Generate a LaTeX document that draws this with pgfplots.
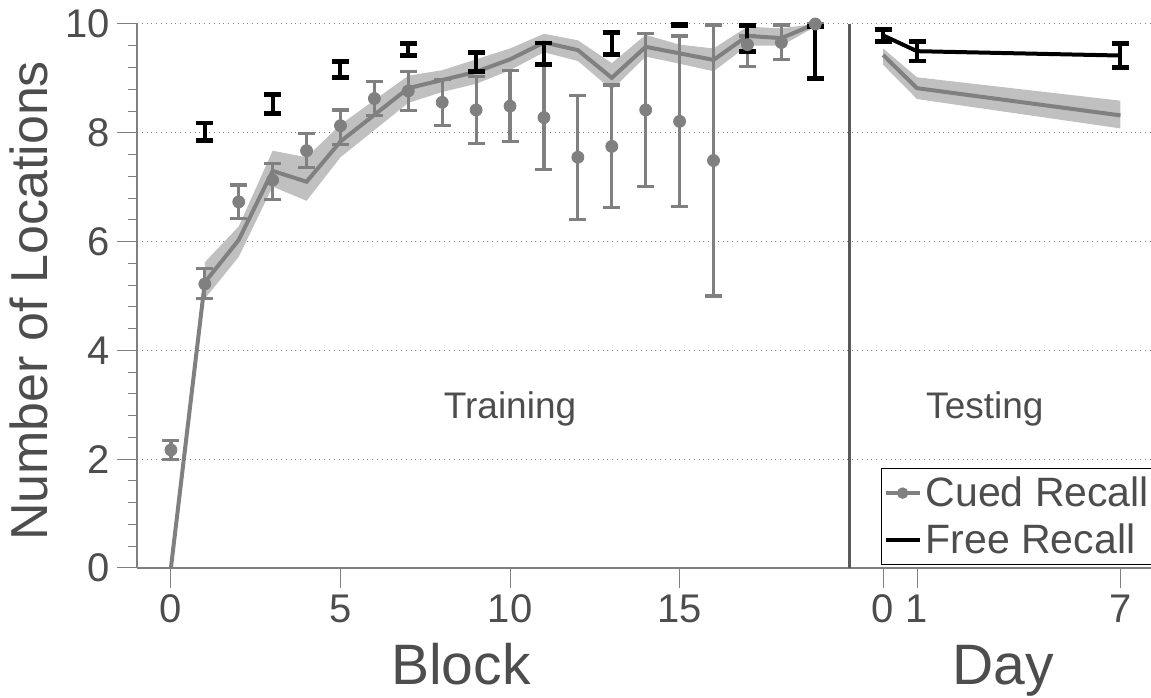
\documentclass[border=0pt]{standalone}
\usepackage{pgfplots}
\pgfplotsset{compat=1.18}
\usepackage{pgfplotstable}
\usepgfplotslibrary{fillbetween}
\usepackage{fontspec}
\setmainfont{Liberation Sans}
\definecolor{textgray}{RGB}{77,77,77}
\definecolor{linegray}{RGB}{128,128,128}
\definecolor{bandgray}{RGB}{192,192,192}
\definecolor{divgray}{RGB}{90,90,90}

% Cued recall (points with error bars), training blocks
\pgfplotstableread{
x y ep em
0 2.17 0.18 0.17
1 5.22 0.29 0.26
2 6.73 0.31 0.30
3 7.13 0.31 0.35
4 7.67 0.31 0.31
5 8.13 0.29 0.34
6 8.63 0.31 0.31
7 8.77 0.36 0.36
8 8.56 0.42 0.42
9 8.42 0.61 0.61
10 8.49 0.65 0.65
11 8.28 0.95 0.95
12 7.55 1.14 1.14
13 7.75 1.13 1.13
14 8.42 1.41 1.41
15 8.21 1.57 1.57
16 7.49 2.49 2.49
17 9.62 0.16 0.40
18 9.66 0.32 0.32
19 10.00 0 0
}\cued

% Free recall, training (odd blocks)
\pgfplotstableread{
x y e
1 8.02 0.16
3 8.53 0.17
5 9.16 0.15
7 9.53 0.11
9 9.30 0.17
11 9.45 0.20
13 9.64 0.20
17 9.73 0.24
19 9.48 0.48
}\freetrain
\pgfplotstableread{
x y ep em
15 10.00 0 0.03
}\freetop

% Gray mean line with shaded band, training
\pgfplotstableread{
x m
0 0
1 5.25
2 6.03
3 7.30
4 7.10
5 7.84
6 8.33
7 8.82
8 8.97
9 9.12
10 9.35
11 9.66
12 9.52
13 9.01
14 9.58
15 9.46
16 9.34
17 9.78
18 9.74
19 10.00
}\meanline
\pgfplotstableread{
x l u
1 4.95 5.62
2 5.72 6.28
3 7.01 7.67
4 6.75 7.55
5 7.55 8.15
6 8.05 8.60
7 8.55 9.05
8 8.75 9.15
9 8.90 9.35
10 9.15 9.55
11 9.48 9.82
12 9.32 9.70
13 8.79 9.28
14 9.40 9.80
15 9.27 9.62
16 9.13 9.55
17 9.60 9.95
18 9.60 9.92
19 9.95 10.00
}\meanband

% Testing (day d plotted at x = 21 + d)
\pgfplotstableread{
x m l u
21 9.43 9.25 9.55
22 8.82 8.62 9.02
28 8.32 8.08 8.59
}\testcued
\pgfplotstableread{
x y e
21 9.79 0.11
22 9.50 0.18
28 9.42 0.22
}\testfree

\begin{document}
\begin{tikzpicture}
\begin{axis}[
  name=ax,
  scale only axis,
  width=507pt, height=272pt,
  xmin=-1, xmax=28.9, ymin=0, ymax=10,
  axis x line=bottom, axis y line=left,
  axis line style={linegray, line width=0.6pt, -},
  xtick={0,5,10,15,21,22,28},
  xticklabels={0,5,10,15,0,1,7},
  ytick={0,2,4,6,8,10},
  minor y tick num=4,
  tick align=outside,
  major tick length=10pt, minor tick length=4.5pt,
  tick style={linegray, line width=0.5pt},
  ymajorgrids,
  major grid style={dotted, gray, line width=0.5pt},
  clip=false,
  ticklabel style={font=\fontsize{20}{20}\selectfont, text=textgray},
  /pgf/number format/assume math mode=true,
  legend style={at={(1.004,0.007)}, anchor=south east, draw=black, line width=0.6pt,
    outer sep=0pt,
    font=\fontsize{20.5}{22}\selectfont, text=textgray, inner xsep=1pt, inner ysep=2pt,
    row sep=3pt},
  legend cell align=left,
]
% training band
\addplot[draw=none, name path=tu, forget plot] table[x=x,y=u]{\meanband};
\addplot[draw=none, name path=tl, forget plot] table[x=x,y=l]{\meanband};
\addplot[bandgray, forget plot] fill between[of=tu and tl];
\addplot[linegray, line width=2pt, forget plot] table[x=x,y=m]{\meanline};
% testing band
\addplot[draw=none, name path=su, forget plot] table[x=x,y=u]{\testcued};
\addplot[draw=none, name path=sl, forget plot] table[x=x,y=l]{\testcued};
\addplot[bandgray, forget plot] fill between[of=su and sl];
\addplot[linegray, line width=2pt, forget plot] table[x=x,y=m]{\testcued};
% cued points
\addplot[linegray, only marks, mark=*, mark size=3pt, forget plot,
  error bars/.cd, y dir=both, y explicit,
  error bar style={linegray, line width=1.6pt},
  error mark options={rotate=90, linegray, line width=1.6pt, mark size=4.25pt}]
  table[x=x,y=y,y error plus=ep,y error minus=em]{\cued};
% free recall training
\addplot[draw=none, mark=none, forget plot,
  error bars/.cd, y dir=both, y explicit,
  error bar style={draw=black, line width=2pt},
  error mark options={rotate=90, draw=black, line width=2.4pt, mark size=4.25pt}]
  table[x=x,y=y,y error=e]{\freetrain};
\addplot[draw=none, mark=none, forget plot,
  error bars/.cd, y dir=both, y explicit,
  error bar style={draw=black, line width=2pt},
  error mark options={rotate=90, draw=black, line width=2.4pt, mark size=4.25pt}]
  table[x=x,y=y,y error plus=ep,y error minus=em]{\freetop};
% free recall testing
\addplot[black, line width=2pt, mark=none, forget plot,
  error bars/.cd, y dir=both, y explicit,
  error bar style={black, line width=2pt},
  error mark options={rotate=90, black, line width=2.4pt, mark size=4.25pt}]
  table[x=x,y=y,y error=e]{\testfree};
% divider
\draw[divgray, line width=1.5pt] (axis cs:20,0) -- (axis cs:20,10);
% texts
\node[anchor=base, font=\fontsize{18.5}{18.5}\selectfont, text=textgray] at (axis cs:10,2.74) {Training};
\node[anchor=base, font=\fontsize{18.5}{18.5}\selectfont, text=textgray] at (axis cs:24,2.74) {Testing};
\node[anchor=base, font=\fontsize{28.5}{28.5}\selectfont, text=textgray] at (axis cs:8.55,-2.15) {Block};
\node[anchor=base, font=\fontsize{28.5}{28.5}\selectfont, text=textgray] at (axis cs:24.55,-2.15) {Day};
\node[anchor=base, rotate=90, font=\fontsize{26}{26}\selectfont, text=textgray] at (axis cs:-3.63,4.91) {Number of Locations};
% legend
\addlegendimage{linegray, line width=2pt, mark=*, mark size=1.8pt}
\addlegendentry{Cued Recall}
\addlegendimage{black, line width=2pt}
\addlegendentry{Free Recall}
\end{axis}
\pgfresetboundingbox
\path[use as bounding box] ([xshift=-68.5pt,yshift=-65pt]ax.south west) rectangle ([yshift=12pt]ax.north east);
\end{tikzpicture}
\end{document}
